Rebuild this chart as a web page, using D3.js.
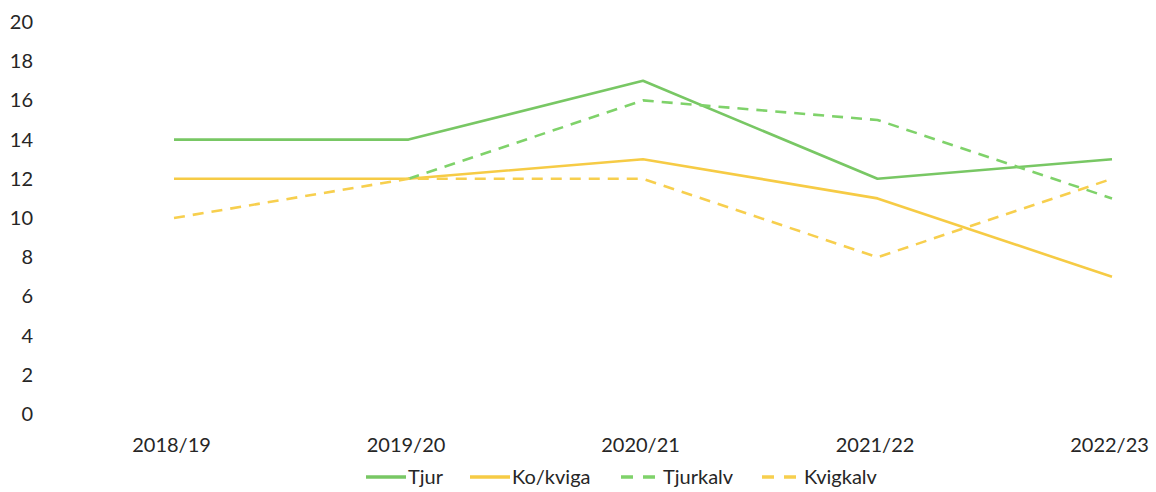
<!DOCTYPE html>
<html>
<head>
<meta charset="utf-8">
<script src="https://cdn.jsdelivr.net/npm/d3@7"></script>
<style>
  body { margin: 0; background: #fff; }
  text { font-family: Lato, "Open Sans", sans-serif; fill: #262626; }
</style>
</head>
<body>
<div class="canvas"></div>
<script>
// data
const seasons = ['2018/19', '2019/20', '2020/21', '2021/22', '2022/23']
const tjur = [14, 14, 17, 12, 13]
const koKviga = [12, 12, 13, 11, 7]
const tjurkalv = [null, 12, 16, 15, 11]
const kvigkalv = [10, 12, 12, 8, 12]
const yTicks = [0, 2, 4, 6, 8, 10, 12, 14, 16, 18, 20]

const series = [
    { name: 'Tjur', values: tjur, color: '#78c764', dash: null },
    { name: 'Ko/kviga', values: koKviga, color: '#f6cb45', dash: null },
    { name: 'Tjurkalv', values: tjurkalv, color: '#7fd26a', dash: '11,8' },
    { name: 'Kvigkalv', values: kvigkalv, color: '#f7cf4e', dash: '11,8' }
]

const width = 1156
const height = 492

const svg = d3.select('.canvas').append('svg')
    .attr('width', width)
    .attr('height', height)

const x = d3.scalePoint()
    .domain(seasons)
    .range([174, 1112])

const y = d3.scaleLinear()
    .domain([0, 20])
    .range([414, 22])

// y axis labels, no line or ticks
const yAxis = d3.axisLeft(y)
    .tickValues(yTicks)
    .tickSize(0)
    .tickPadding(0)

svg.append('g')
    .attr('transform', 'translate(33, 0)')
    .call(yAxis)
    .call(g => g.select('.domain').remove())
    .selectAll('text')
    .style('font-family', 'Lato, "Open Sans", sans-serif')
    .style('font-size', '20px')
    .attr('fill', '#262626')

// x axis labels
const xAxis = d3.axisBottom(x).tickSize(0).tickPadding(0)

svg.append('g')
    .attr('transform', 'translate(0, 438)')
    .call(xAxis)
    .call(g => g.select('.domain').remove())
    .selectAll('text')
    .attr('dx', -3)
    .style('font-family', 'Lato, "Open Sans", sans-serif')
    .style('font-size', '20px')
    .attr('fill', '#262626')

const line = d3.line()
    .defined(d => d.v != null)
    .x(d => x(d.s))
    .y(d => y(d.v))

svg.selectAll('path.series')
    .data(series)
    .enter()
    .append('path')
    .attr('class', 'series')
    .attr('d', d => line(d.values.map((v, i) => ({ s: seasons[i], v: v }))))
    .attr('fill', 'none')
    .attr('stroke', d => d.color)
    .attr('stroke-width', 2.6)
    .attr('stroke-dasharray', d => d.dash)
    .attr('stroke-linejoin', 'round')

// legend
const legendX = [366, 470, 621, 762]
const legend = svg.selectAll('g.legend')
    .data(series)
    .enter()
    .append('g')
    .attr('class', 'legend')
    .attr('transform', (d, i) => `translate(${legendX[i]}, 477)`)

legend.append('line')
    .attr('x1', 0)
    .attr('x2', 40)
    .attr('stroke', d => d.color)
    .attr('stroke-width', 3.5)
    .attr('stroke-dasharray', d => d.dash ? '12,10' : null)

legend.append('text')
    .attr('x', 42)
    .attr('y', 7)
    .style('font-size', '20px')
    .text(d => d.name)
</script>
</body>
</html>
